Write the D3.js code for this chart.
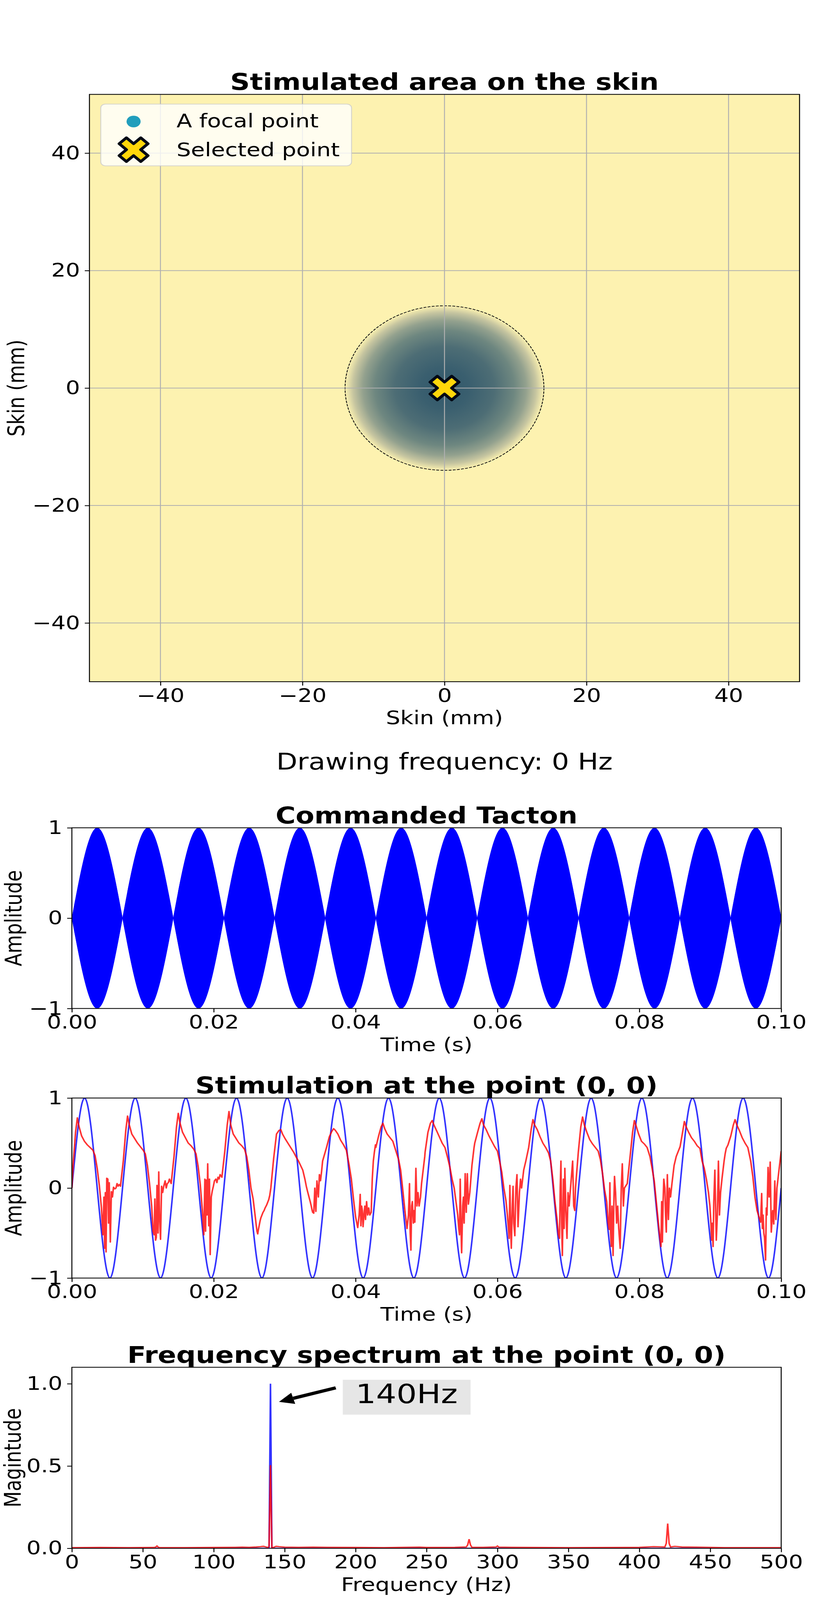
<!DOCTYPE html>
<html>
<head>
<meta charset="utf-8">
<script src="https://cdn.jsdelivr.net/npm/d3@7"></script>
<style>
  html, body { margin: 0; padding: 0; background: #fff; overflow: hidden; }
  svg { display: block; font-family: "DejaVu Sans", sans-serif; }
</style>
</head>
<body>
<div id="chart"></div>
<script>
// ---- data ----
// skin map
var skinTicks = [-40, -20, 0, 20, 40];
var focalPoints = [[0, 0]];
var selectedPoint = [0, 0];
var stimRadius = 14;               // mm
var legendLabels = ["A focal point", "Selected point"];
var drawingFrequency = 0;          // Hz

// commanded tacton (envelope lobes, ms)
var timeTicks = [0, 0.02, 0.04, 0.06, 0.08, 0.10];
var ampTicks = [-1, 0, 1];
var envZeros = [0, 7.14, 14.29, 21.43, 28.57, 35.71, 42.86, 50.0, 57.14, 64.29, 71.43, 78.57, 85.71, 92.86, 100.0];
var envPeaks = [3.57, 10.71, 17.86, 25.0, 32.14, 39.29, 46.43, 53.57, 60.71, 67.86, 75.0, 82.14, 89.29, 96.43];
var envPeakAmp = [1, 1, 1, 1, 1, 1, 1, 1, 1, 1, 1, 1, 1, 1];

// stimulation at (0,0): commanded 140 Hz (blue), measured (red)
var stimTime = [0, 1.79, 3.57, 5.36, 7.14, 8.93, 10.71, 12.50, 14.29, 16.07, 17.86, 19.64, 21.43, 23.21,
  25.00, 26.79, 28.57, 30.36, 32.14, 33.93, 35.71, 37.50, 39.29, 41.07, 42.86, 44.64, 46.43, 48.21,
  50.00, 51.79, 53.57, 55.36, 57.14, 58.93, 60.71, 62.50, 64.29, 66.07, 67.86, 69.64, 71.43, 73.21,
  75.00, 76.79, 78.57, 80.36, 82.14, 83.93, 85.71, 87.50, 89.29, 91.07, 92.86, 94.64, 96.43, 98.21, 100.00];
var stimValue = [0, 1, 0, -1, 0, 1, 0, -1, 0, 1, 0, -1, 0, 1, 0, -1, 0, 1, 0, -1, 0, 1, 0, -1, 0, 1, 0, -1,
  0, 1, 0, -1, 0, 1, 0, -1, 0, 1, 0, -1, 0, 1, 0, -1, 0, 1, 0, -1, 0, 1, 0, -1, 0, 1, 0, -1, 0];

// measured trace: peak time of each cycle (ms), sample offsets from the peak (ms), values per cycle
var redPeaks = [0.77, 7.85, 15.0, 22.15, 29.45, 36.9, 43.85, 50.8, 57.8, 65.0, 72.0, 79.3, 86.35, 93.5];
var redOffsets = [-1.0, -0.6, -0.25, 0, 0.25, 0.6, 1.0, 1.4, 1.8, 2.2, 2.5, 2.8, 3.1, 3.4, 3.6, 3.75,
  3.85, 3.95, 4.05, 4.15, 4.3, 4.4, 4.5, 4.65, 4.8, 4.95, 5.1, 5.3, 5.45, 5.6, 5.75, 5.9];
var redCycles = [
  [0.0, 0.25, 0.62, 0.78, 0.68, 0.58, 0.52, 0.48, 0.45, 0.42, 0.36, 0.22, 0.03, -0.22, -0.52, -0.1, -0.67, -0.05, -0.71, 0.11, 0.1, -0.39, 0.06, -0.6, -0.04, -0.1, 0.01, -0.01, 0.0, 0.05, 0.02, 0.04],
  [0.02, 0.3, 0.64, 0.80, 0.70, 0.60, 0.55, 0.50, 0.46, 0.42, 0.38, 0.25, 0.05, -0.2, -0.48, -0.52, -0.12, -0.58, -0.55, 0.03, -0.5, 0.18, -0.3, -0.57, 0.02, -0.05, 0.02, 0.08, 0.0, 0.05, 0.06, 0.1],
  [0.05, 0.35, 0.68, 0.83, 0.72, 0.62, 0.56, 0.5, 0.47, 0.43, 0.38, 0.24, 0.04, -0.25, -0.52, 0.1, -0.48, 0.09, -0.3, 0.27, -0.42, 0.1, -0.74, -0.1, -0.03, 0.02, 0.08, 0.1, 0.06, 0.12, 0.1, 0.15],
  [0.12, 0.4, 0.7, 0.85, 0.7, 0.6, 0.55, 0.5, 0.47, 0.43, 0.35, 0.2, 0.0, -0.12, -0.25, -0.35, -0.42, -0.48, -0.51, -0.46, -0.4, -0.36, -0.33, -0.3, -0.27, -0.25, -0.22, -0.19, -0.16, -0.13, -0.08, 0.0],
  [0.33, 0.6, 0.64, 0.65, 0.6, 0.55, 0.5, 0.45, 0.4, 0.34, 0.3, 0.25, 0.2, 0.1, 0.02, -0.03, -0.06, -0.09, -0.12, -0.15, -0.2, -0.24, -0.27, -0.28, 0.0, -0.26, 0.08, -0.1, 0.15, 0.08, 0.18, 0.3],
  [0.45, 0.57, 0.63, 0.66, 0.64, 0.6, 0.53, 0.48, 0.42, 0.25, 0.1, -0.12, -0.32, -0.44, -0.3, -0.07, -0.42, -0.2, -0.25, -0.43, -0.28, -0.2, -0.35, -0.15, -0.3, -0.22, -0.3, -0.27, 0.1, 0.3, 0.4, 0.48],
  [0.45, 0.58, 0.68, 0.72, 0.66, 0.6, 0.56, 0.52, 0.42, 0.32, 0.2, -0.02, -0.25, -0.45, -0.3, 0.05, -0.5, -0.69, -0.2, -0.15, -0.39, -0.25, -0.38, 0.22, -0.2, -0.05, -0.2, -0.1, 0.05, 0.15, 0.25, 0.35],
  [0.4, 0.62, 0.72, 0.75, 0.7, 0.64, 0.57, 0.5, 0.45, 0.33, 0.23, 0.1, 0.0, -0.18, -0.3, -0.45, -0.52, 0.1, -0.4, -0.72, -0.2, -0.1, -0.39, 0.16, -0.27, 0.16, -0.18, -0.05, 0.1, 0.25, 0.35, 0.45],
  [0.5, 0.62, 0.72, 0.77, 0.7, 0.65, 0.58, 0.52, 0.46, 0.41, 0.3, 0.18, 0.0, -0.14, -0.3, -0.45, -0.56, 0.03, -0.4, -0.67, -0.18, 0.02, -0.39, -0.53, 0.0, 0.15, -0.43, -0.05, 0.1, 0.0, 0.1, 0.2],
  [0.3, 0.45, 0.65, 0.76, 0.7, 0.65, 0.57, 0.5, 0.45, 0.39, 0.3, 0.1, -0.15, -0.35, -0.52, -0.56, 0.0, 0.3, -0.4, -0.75, 0.1, -0.45, 0.22, -0.25, -0.56, -0.05, -0.2, 0.0, 0.15, 0.3, -0.2, -0.25],
  [0.0, 0.4, 0.68, 0.79, 0.7, 0.62, 0.54, 0.49, 0.45, 0.41, 0.32, 0.17, -0.02, -0.15, -0.38, -0.46, 0.06, -0.5, -0.65, -0.2, -0.75, -0.2, 0.13, -0.05, -0.39, -0.2, -0.45, -0.67, 0.0, 0.27, -0.2, 0.0],
  [0.05, 0.35, 0.62, 0.75, 0.69, 0.6, 0.52, 0.49, 0.45, 0.35, 0.22, 0.08, -0.16, -0.4, -0.55, -0.65, -0.15, -0.6, -0.16, 0.1, 0.0, -0.3, -0.49, 0.15, -0.35, 0.0, -0.1, 0.05, 0.15, 0.25, 0.3, 0.35],
  [0.38, 0.46, 0.62, 0.74, 0.68, 0.62, 0.56, 0.52, 0.47, 0.44, 0.3, 0.22, 0.1, -0.05, -0.2, -0.4, -0.58, -0.39, -0.65, -0.15, 0.2, -0.2, -0.58, -0.3, 0.3, -0.3, -0.05, 0.1, 0.2, 0.3, 0.38, 0.44],
  [0.48, 0.58, 0.7, 0.76, 0.7, 0.64, 0.56, 0.5, 0.45, 0.3, 0.13, -0.1, -0.25, -0.33, -0.38, -0.06, -0.45, -0.3, -0.5, -0.55, -0.8, -0.22, -0.3, 0.23, -0.1, 0.29, -0.49, -0.25, -0.4, 0.08, -0.35, 0.0]
];
var redStart = [0, 0.0];
var redEnd = [100, 0.41];

// frequency spectrum at (0,0)
var freqTicks = [0, 50, 100, 150, 200, 250, 300, 350, 400, 450, 500];
var magTicks = [0, 0.5, 1.0];
var blueFreq = [0, 138, 139, 140, 141, 142, 500];
var blueMag = [0, 0, 0, 1.0, 0, 0, 0];
var redFreq = [0, 20, 40, 58, 59, 60, 61, 62, 80, 100, 115, 120, 125, 130, 133, 135, 137, 138, 139, 140, 141, 142,
  144, 146, 150, 160, 170, 180, 200, 220, 245, 250, 270, 278, 279, 280, 281, 282, 290, 299, 300, 301, 310,
  350, 390, 400, 410, 415, 418, 419, 420, 421, 422, 425, 430, 440, 460, 500];
var redMag = [0.004, 0.005, 0.004, 0.005, 0.007, 0.014, 0.006, 0.004, 0.004, 0.005, 0.006, 0.007, 0.006, 0.008, 0.01, 0.012, 0.008, 0.005, 0.01, 0.505, 0.004, 0.005,
  0.012, 0.01, 0.007, 0.006, 0.007, 0.006, 0.005, 0.004, 0.007, 0.005, 0.006, 0.008, 0.02, 0.055, 0.02, 0.006, 0.006, 0.008, 0.014, 0.007, 0.006,
  0.004, 0.005, 0.006, 0.01, 0.009, 0.008, 0.03, 0.15, 0.03, 0.008, 0.012, 0.008, 0.007, 0.004, 0.004];
var peakLabel = "140Hz";
var peakLabelPos = [236, 0.882];
var arrowTip = [146, 0.89];
var arrowTail = [186, 0.975];

// ---- drawing ----
var W = 2084, H = 4950;
var FONT = "DejaVu Sans, sans-serif";

// the figure is laid out on a 2084x4950 canvas and stretched to fill the window
var svg = d3.select("#chart").append("svg")
    .attr("viewBox", "0 0 " + W + " " + H)
    .attr("preserveAspectRatio", "none")
    .style("width", "100vw")
    .style("height", "100vh");
svg.append("rect").attr("width", W).attr("height", H).attr("fill", "#fff");
var defs = svg.append("defs");

function clipFor(id, x, y) {
    defs.append("clipPath").attr("id", id)
        .append("rect")
        .attr("x", x.range()[0]).attr("y", y.range()[1])
        .attr("width", x.range()[1] - x.range()[0])
        .attr("height", y.range()[0] - y.range()[1]);
    return "url(#" + id + ")";
}

function drawAxes(g, x, y, xt, yt, fx, fy) {
    var ax = g.append("g")
        .attr("transform", "translate(0," + y.range()[0] + ")")
        .call(d3.axisBottom(x).tickValues(xt).tickFormat(fx).tickSize(12).tickPadding(9));
    var ay = g.append("g")
        .attr("transform", "translate(" + x.range()[0] + ",0)")
        .call(d3.axisLeft(y).tickValues(yt).tickFormat(fy).tickSize(12).tickPadding(12));
    [ax, ay].forEach(function (a) {
        a.attr("font-size", 58).attr("font-family", FONT);
        a.select(".domain").remove();
        a.selectAll(".tick line").attr("stroke", "#000").attr("stroke-width", 2.5);
        a.selectAll(".tick text").attr("fill", "#000");
    });
    // spines
    g.append("rect")
        .attr("x", x.range()[0]).attr("y", y.range()[1])
        .attr("width", x.range()[1] - x.range()[0])
        .attr("height", y.range()[0] - y.range()[1])
        .attr("fill", "none").attr("stroke", "#000").attr("stroke-width", 2.5);
}

function labels(g, x, y, title, xlab, ylab, ylabX) {
    var cx = (x.range()[0] + x.range()[1]) / 2;
    var cy = (y.range()[0] + y.range()[1]) / 2;
    g.append("text").attr("x", cx).attr("y", y.range()[1] - 14)
        .attr("text-anchor", "middle").attr("font-size", 70).attr("font-weight", "bold")
        .text(title);
    g.append("text").attr("x", cx).attr("y", y.range()[0] + 132)
        .attr("text-anchor", "middle").attr("font-size", 58)
        .text(xlab);
    g.append("text")
        .attr("transform", "translate(" + ylabX + "," + cy + ") rotate(-90)")
        .attr("text-anchor", "middle").attr("font-size", 58)
        .text(ylab);
}

// X (filled cross) marker, like matplotlib "X"
var plusPts = [[-1, -3], [1, -3], [1, -1], [3, -1], [3, 1], [1, 1], [1, 3], [-1, 3], [-1, 1], [-3, 1], [-3, -1], [-1, -1]];
function xMarker(size) {
    var k = size / 6 / Math.SQRT2;
    return "M" + plusPts.map(function (p) {
        return [(p[0] - p[1]) * k, (p[0] + p[1]) * k].join(",");
    }).join("L") + "Z";
}

// ===== 1. Stimulated area on the skin =====
var x1 = d3.scaleLinear().domain([-50, 50]).range([229, 2047]);
var y1 = d3.scaleLinear().domain([-50, 50]).range([2109, 292]);
var g1 = svg.append("g").attr("font-family", FONT);

var grad = defs.append("radialGradient").attr("id", "spot")
    .attr("gradientUnits", "userSpaceOnUse")
    .attr("cx", x1(focalPoints[0][0])).attr("cy", y1(focalPoints[0][1]))
    .attr("r", x1(stimRadius) - x1(0));
[[0, "#31576a"], [0.25, "#3a5f6f"], [0.5, "#4d6d75"], [0.7, "#6e8780"],
 [0.82, "#93a18e"], [0.92, "#c6c5a0"], [1, "#fbf1b0"]].forEach(function (s) {
    grad.append("stop").attr("offset", s[0]).attr("stop-color", s[1]);
});

var plot1 = g1.append("g").attr("clip-path", clipFor("c1", x1, y1));
plot1.append("rect")
    .attr("x", x1(-50)).attr("y", y1(50))
    .attr("width", x1(50) - x1(-50)).attr("height", y1(-50) - y1(50))
    .attr("fill", "#fdf2b0");
plot1.selectAll(".spot").data(focalPoints).enter().append("circle")
    .attr("cx", function (d) { return x1(d[0]); })
    .attr("cy", function (d) { return y1(d[1]); })
    .attr("r", x1(stimRadius) - x1(0))
    .attr("fill", "url(#spot)");
plot1.selectAll(".ring").data(focalPoints).enter().append("circle")
    .attr("cx", function (d) { return x1(d[0]); })
    .attr("cy", function (d) { return y1(d[1]); })
    .attr("r", x1(stimRadius) - x1(0))
    .attr("fill", "none").attr("stroke", "#111").attr("stroke-width", 2.2)
    .attr("stroke-dasharray", "7.4 3.2");
// grid
plot1.selectAll(".gx").data(skinTicks).enter().append("line")
    .attr("x1", x1).attr("x2", x1).attr("y1", y1(-50)).attr("y2", y1(50))
    .attr("stroke", "#b0b0b0").attr("stroke-width", 2.4);
plot1.selectAll(".gy").data(skinTicks).enter().append("line")
    .attr("y1", y1).attr("y2", y1).attr("x1", x1(-50)).attr("x2", x1(50))
    .attr("stroke", "#b0b0b0").attr("stroke-width", 2.4);
plot1.selectAll(".fp").data(focalPoints).enter().append("circle")
    .attr("cx", function (d) { return x1(d[0]); })
    .attr("cy", function (d) { return y1(d[1]); })
    .attr("r", 18).attr("fill", "#219ebc");
plot1.append("path")
    .attr("d", xMarker(78))
    .attr("transform", "translate(" + x1(selectedPoint[0]) + "," + y1(selectedPoint[1]) + ")")
    .attr("fill", "#ffd60a").attr("stroke", "#000814").attr("stroke-width", 8)
    .attr("stroke-linejoin", "round");

drawAxes(g1, x1, y1, skinTicks, skinTicks, d3.format("d"), d3.format("d"));
labels(g1, x1, y1, "Stimulated area on the skin", "Skin (mm)", "Skin (mm)", 62);

// legend
var lg = g1.append("g");
lg.append("rect").attr("x", 258).attr("y", 322).attr("width", 642).attr("height", 191)
    .attr("rx", 12).attr("fill", "#fff").attr("fill-opacity", 0.8)
    .attr("stroke", "#cccccc").attr("stroke-opacity", 0.8).attr("stroke-width", 2.5);
lg.append("circle").attr("cx", 342).attr("cy", 376).attr("r", 18).attr("fill", "#219ebc");
lg.append("path").attr("d", xMarker(78)).attr("transform", "translate(342,463)")
    .attr("fill", "#ffd60a").attr("stroke", "#000814").attr("stroke-width", 8)
    .attr("stroke-linejoin", "round");
lg.selectAll("text").data(legendLabels).enter().append("text")
    .attr("x", 452)
    .attr("y", function (d, i) { return 394 + i * 90; })
    .attr("font-size", 58)
    .text(function (d) { return d; });

g1.append("text").attr("x", 1138).attr("y", 2381)
    .attr("text-anchor", "middle").attr("font-size", 70)
    .text("Drawing frequency: " + drawingFrequency + " Hz");

// ===== 2. Commanded Tacton =====
var xt = d3.scaleLinear().domain([0, 0.1]).range([184, 2000]);
var y2 = d3.scaleLinear().domain([-1, 1]).range([3120, 2561]);
var g2 = svg.append("g").attr("font-family", FONT);
var plot2 = g2.append("g").attr("clip-path", clipFor("c2", xt, y2));
var lobes = envPeaks.map(function (p, i) {
    return [[envZeros[i], 0], [p, envPeakAmp[i]], [envZeros[i + 1], 0]];
});
var lobeArea = d3.area()
    .x(function (d) { return xt(d[0] / 1000); })
    .y0(function (d) { return y2(-d[1]); })
    .y1(function (d) { return y2(d[1]); })
    .curve(d3.curveNatural);
plot2.selectAll("path").data(lobes).enter().append("path")
    .attr("d", lobeArea)
    .attr("fill", "#0000ff").attr("stroke", "#0000ff").attr("stroke-width", 1);
drawAxes(g2, xt, y2, timeTicks, ampTicks, d3.format(".2f"), d3.format("d"));
labels(g2, xt, y2, "Commanded Tacton", "Time (s)", "Amplitude", 55);

// ===== 3. Stimulation at the point (0, 0) =====
var y3 = d3.scaleLinear().domain([-1, 1]).range([3954, 3397]);
var g3 = svg.append("g").attr("font-family", FONT);
var plot3 = g3.append("g").attr("clip-path", clipFor("c3", xt, y3));
var blueTrace = stimTime.map(function (t, i) { return [t, stimValue[i]]; });
var redTrace = [redStart];
redPeaks.forEach(function (p, k) {
    redOffsets.forEach(function (o, j) {
        var t = p + o;
        if (t > 0 && t < 100) redTrace.push([t, redCycles[k][j]]);
    });
});
redTrace.push(redEnd);
redTrace.sort(function (a, b) { return a[0] - b[0]; });

var blueLine = d3.line()
    .x(function (d) { return xt(d[0] / 1000); })
    .y(function (d) { return y3(d[1]); })
    .curve(d3.curveNatural);
var redLine = d3.line()
    .x(function (d) { return xt(d[0] / 1000); })
    .y(function (d) { return y3(d[1]); });
plot3.append("path").attr("d", blueLine(blueTrace))
    .attr("fill", "none").attr("stroke", "blue").attr("stroke-opacity", 0.8).attr("stroke-width", 4);
plot3.append("path").attr("d", redLine(redTrace))
    .attr("fill", "none").attr("stroke", "red").attr("stroke-opacity", 0.8).attr("stroke-width", 4)
    .attr("stroke-linejoin", "round");
drawAxes(g3, xt, y3, timeTicks, ampTicks, d3.format(".2f"), d3.format("d"));
labels(g3, xt, y3, "Stimulation at the point (0, 0)", "Time (s)", "Amplitude", 55);

// ===== 4. Frequency spectrum =====
var xf = d3.scaleLinear().domain([0, 500]).range([184, 2000]);
var y4 = d3.scaleLinear().domain([0, 1.1]).range([4790, 4230]);
var g4 = svg.append("g").attr("font-family", FONT);
var plot4 = g4.append("g").attr("clip-path", clipFor("c4", xf, y4));
var specLine = d3.line()
    .x(function (d) { return xf(d[0]); })
    .y(function (d) { return y4(d[1]); });
plot4.append("path").attr("d", specLine(blueFreq.map(function (f, i) { return [f, blueMag[i]]; })))
    .attr("fill", "none").attr("stroke", "blue").attr("stroke-opacity", 0.8).attr("stroke-width", 4);
plot4.append("path").attr("d", specLine(redFreq.map(function (f, i) { return [f, redMag[i]]; })))
    .attr("fill", "none").attr("stroke", "red").attr("stroke-opacity", 0.8).attr("stroke-width", 4);
drawAxes(g4, xf, y4, freqTicks, magTicks, d3.format("d"), d3.format(".1f"));
labels(g4, xf, y4, "Frequency spectrum at the point (0, 0)", "Frequency (Hz)", "Magintude", 53);

// annotation box + arrow
var ann = g4.append("g");
var annText = ann.append("text")
    .attr("x", xf(peakLabelPos[0])).attr("y", y4(peakLabelPos[1]))
    .attr("text-anchor", "middle").attr("font-size", 82)
    .text(peakLabel);
var bb = annText.node().getBBox();
ann.insert("rect", "text")
    .attr("x", bb.x - 33).attr("y", bb.y + 4)
    .attr("width", bb.width + 66).attr("height", bb.height + 12)
    .attr("fill", "#e6e6e6");
var tx = xf(arrowTip[0]), ty = y4(arrowTip[1]);
var sx = xf(arrowTail[0]), sy = y4(arrowTail[1]);
var ang = Math.atan2(ty - sy, tx - sx);
var hl = 38, hw = 18;
var bx = tx - hl * Math.cos(ang), by = ty - hl * Math.sin(ang);
ann.append("line").attr("x1", sx).attr("y1", sy).attr("x2", bx).attr("y2", by)
    .attr("stroke", "#000").attr("stroke-width", 10);
ann.append("path")
    .attr("d", "M" + tx + "," + ty +
        "L" + (bx + hw * Math.sin(ang)) + "," + (by - hw * Math.cos(ang)) +
        "L" + (bx - hw * Math.sin(ang)) + "," + (by + hw * Math.cos(ang)) + "Z")
    .attr("fill", "#000");
</script>
</body>
</html>
